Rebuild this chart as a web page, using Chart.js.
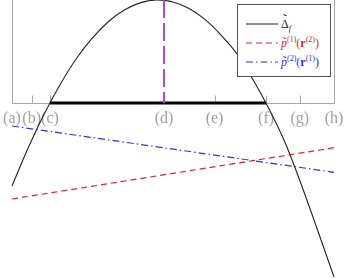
<!DOCTYPE html>
<html>
<head>
<meta charset="utf-8">
<script src="https://cdn.jsdelivr.net/npm/chart.js@4/dist/chart.umd.min.js"></script>
<style>
body { margin: 0; background: #fff; }
#wrap { position: relative; width: 347px; height: 278px; }
#legend { position: absolute; left: 237px; top: 4px; width: 92px; height: 71px; border: 1px solid #555; background: #fff;
  font-family: "Liberation Serif", serif; font-size: 12px; }
.row { position: absolute; left: 0; width: 92px; height: 14px; }
.row svg { position: absolute; left: 8px; top: 6px; }
.row .t { position: absolute; left: 43px; top: 0; white-space: nowrap; line-height: 14px; }
.row sup, .row sub { font-size: 8px; line-height: 0; }
.acc { position: relative; display: inline-block; }
.acc .tl { position: absolute; left: 0; right: 0; text-align: center; font-style: normal; }
</style>
</head>
<body>
<div id="wrap">
  <canvas id="chart" width="347" height="278"></canvas>
  <div id="legend">
    <div class="row" style="top:12px">
      <svg width="32" height="2"><line x1="0" y1="1" x2="32" y2="1" stroke="#222" stroke-width="1"/></svg>
      <span class="t" style="color:#222"><span class="acc">Δ<span class="tl" style="top:-5px">˜</span></span><sub><i>f</i></sub></span>
    </div>
    <div class="row" style="top:31px">
      <svg width="32" height="2"><line x1="0" y1="1" x2="32" y2="1" stroke="#d42a2a" stroke-width="1" stroke-dasharray="6 4"/></svg>
      <span class="t" style="color:#d42a2a"><i class="acc">p<span class="tl" style="top:-1px;left:1px">˜</span></i><sup>(1)</sup>(<b>r</b><sup>(2)</sup>)</span>
    </div>
    <div class="row" style="top:50px">
      <svg width="32" height="2"><line x1="0" y1="1" x2="32" y2="1" stroke="#3434d4" stroke-width="1" stroke-dasharray="7 3 1.5 3"/></svg>
      <span class="t" style="color:#3434d4"><i class="acc">p<span class="tl" style="top:-1px;left:1px">˜</span></i><sup>(2)</sup>(<b>r</b><sup>(1)</sup>)</span>
    </div>
  </div>
</div>
<script>
// tick positions and labels on the horizontal axis
const tickPos = [0, 0.61, 1.18, 4.72, 6.29, 7.89, 8.94, 10];
const tickLabels = ["(a)", "(b)", "(c)", "(d)", "(e)", "(f)", "(g)", "(h)"];

// Delta_f curve
const deltaX = [0, 0.5, 1, 1.5, 2, 2.5, 3, 3.5, 4, 4.5, 5, 5.5, 6, 6.5, 7, 7.5, 8, 8.5, 9, 9.5, 10];
const deltaY = [-8.3, -4.5, -1.1, 1.87, 4.45, 6.51, 8.15, 9.32, 10.04, 10.3, 10.1, 9.45, 8.33, 6.76, 4.85, 2.25, -0.7, -4.1, -8.3, -12.8, -17.4];

// p1(r2) and p2(r1) lines
const p1X = [0, 10];
const p1Y = [-9.6, -4.47];
const p2X = [0, 10];
const p2Y = [-2.3, -6.93];

// vertical marker at (d) and the interval between the zeros
const markX = 4.72;
const markTop = 10.3;
const zeroX = [1.18, 7.89];

const pts = (xs, ys) => xs.map((v, i) => ({ x: v, y: ys[i] }));

const axisDecor = {
    id: "axisDecor",
    beforeDatasetsDraw(chart) {
        const ctx = chart.ctx;
        const x = chart.scales.x;
        const y = chart.scales.y;
        const y0 = Math.round(y.getPixelForValue(0)) + 0.5;
        const yTop = y.getPixelForValue(y.max);
        const xl = Math.round(x.getPixelForValue(tickPos[0])) + 0.5;
        const xr = Math.round(x.getPixelForValue(tickPos[tickPos.length - 1])) + 0.5;
        ctx.save();
        ctx.strokeStyle = "#a8a8a8";
        ctx.lineWidth = 1;
        ctx.beginPath();
        ctx.moveTo(xl, yTop);
        ctx.lineTo(xl, y0);
        ctx.lineTo(xr, y0);
        ctx.lineTo(xr, yTop);
        tickPos.forEach(v => {
            const px = Math.round(x.getPixelForValue(v)) + 0.5;
            ctx.moveTo(px, y0);
            ctx.lineTo(px, y0 - 8);
        });
        ctx.stroke();
        ctx.fillStyle = "#a0a0a0";
        ctx.font = '16px "Liberation Serif"';
        ctx.textAlign = "center";
        ctx.textBaseline = "alphabetic";
        tickLabels.forEach((t, i) => ctx.fillText(t, x.getPixelForValue(tickPos[i]), y0 + 19));
        ctx.restore();
    }
};

const chart = new Chart(document.getElementById("chart").getContext("2d"), {
    type: "line",
    data: {
        datasets: [
            { label: "d", data: pts([markX, markX], [markTop, 0]), borderColor: "#b04cc0", borderWidth: 2, borderDash: [18, 5], pointRadius: 0 },
            { label: "zeros", data: pts(zeroX, [0, 0]), borderColor: "#000", borderWidth: 3, pointRadius: 0 },
            { label: "p1", data: pts(p1X, p1Y), borderColor: "#d42a2a", borderWidth: 1.2, borderDash: [6, 4], pointRadius: 0 },
            { label: "p2", data: pts(p2X, p2Y), borderColor: "#3434d4", borderWidth: 1.2, borderDash: [7, 3, 1.5, 3], pointRadius: 0 },
            { label: "delta", data: pts(deltaX, deltaY), borderColor: "#222", borderWidth: 1.1, tension: 0.3, pointRadius: 0 }
        ]
    },
    options: {
        responsive: false,
        animation: false,
        layout: { padding: 0 },
        plugins: { legend: { display: false }, tooltip: { enabled: false } },
        scales: {
            x: { type: "linear", display: false, min: -12 * 10 / 322, max: 10 + 13 * 10 / 322 },
            y: { type: "linear", display: false, min: -17.5, max: 10.3 }
        }
    },
    plugins: [axisDecor]
});
</script>
</body>
</html>
